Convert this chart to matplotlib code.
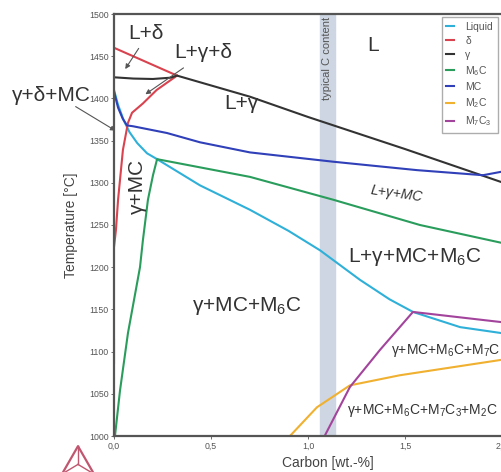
import matplotlib.pyplot as plt
import numpy as np

plt.rcParams['font.family'] = ['Liberation Sans', 'DejaVu Sans']
plt.rcParams['mathtext.fontset'] = 'custom'
plt.rcParams['mathtext.rm'] = 'Liberation Sans'
plt.rcParams['mathtext.it'] = 'Liberation Sans:italic'

# phase boundary lines (carbon wt.-%, temperature °C)
liquid_a_c = [0.0, 0.02, 0.05, 0.08, 0.12, 0.17, 0.222]
liquid_a_t = [1410, 1393, 1374, 1360, 1347, 1335, 1328]
liquid_b_c = [0.222, 0.443, 0.701, 0.90, 1.062, 1.268, 1.42, 1.541, 1.784, 1.995, 2.2]
liquid_b_t = [1328, 1297, 1268, 1243, 1220, 1185, 1162, 1147, 1129, 1122, 1118]

delta_liq_c = [0.0, 0.325]
delta_liq_t = [1460, 1427]
delta_c = [0.325, 0.22, 0.149, 0.093, 0.072, 0.046, 0.021, 0.01, 0.0]
delta_t = [1427, 1410, 1394, 1383, 1371, 1339, 1280, 1244, 1224]
delta_low_c = [0.002, 0.002]
delta_low_t = [1114, 1086]

gamma_c = [0.0, 0.1, 0.2, 0.29, 0.325, 0.701, 1.0, 1.5, 1.995, 2.2]
gamma_t = [1425, 1423.5, 1423, 1424.5, 1427, 1402, 1378, 1340, 1301, 1285]

m6c_c = [0.005, 0.031, 0.072, 0.134, 0.149, 0.175, 0.201, 0.222, 0.45, 0.701, 1.129, 1.577, 1.995, 2.2]
m6c_t = [1000, 1054, 1122, 1200, 1232, 1280, 1309, 1328, 1318, 1307, 1280, 1250, 1229, 1220]

mc_c = [0.0, 0.021, 0.045, 0.067, 0.098, 0.273, 0.443, 0.701, 1.129, 1.562, 1.902, 1.995, 2.2]
mc_t = [1408, 1389, 1376, 1368, 1367, 1359, 1348, 1336, 1325, 1315, 1309, 1313, 1318]

m2c_c = [0.907, 1.046, 1.216, 1.474, 1.99, 2.2]
m2c_t = [1000, 1034, 1060, 1072, 1090, 1097]

m7c3_c = [1.088, 1.216, 1.371, 1.541, 1.995, 2.2]
m7c3_t = [1001, 1058, 1102, 1147, 1135, 1131]

band_c = [1.06, 1.14]

x_ticks = [0.0, 0.5, 1.0, 1.5, 2.0]
x_tick_labels = ['0,0', '0,5', '1,0', '1,5', '2,0']
y_ticks = [1000, 1050, 1100, 1150, 1200, 1250, 1300, 1350, 1400, 1450, 1500]

c_liquid = '#2fb0d8'
c_delta = '#d8434f'
c_gamma = '#333333'
c_m6c = '#2a9d5c'
c_mc = '#3040b8'
c_m2c = '#f0b030'
c_m7c3 = '#a3449c'

fig = plt.figure(figsize=(5.01, 4.72), dpi=100)
ax = fig.add_axes([114 / 501, 36 / 472, 2.2 * 194 / 501, 422 / 472])

ax.axvspan(band_c[0], band_c[1], color='#cdd6e2', zorder=0)
ax.text(sum(band_c) / 2, 1497, 'typical C content', rotation=90, ha='center', va='top',
        fontsize=8, color='#555555')

lw = 1.5
ax.plot(liquid_a_c, liquid_a_t, color=c_liquid, lw=lw)
ax.plot(liquid_b_c, liquid_b_t, color=c_liquid, lw=lw, label='Liquid')
ax.plot(delta_liq_c, delta_liq_t, color=c_delta, lw=lw, label='δ')
ax.plot(delta_c, delta_t, color=c_delta, lw=lw)
ax.plot(delta_low_c, delta_low_t, color=c_delta, lw=lw)
ax.plot(gamma_c, gamma_t, color=c_gamma, lw=lw, label='γ')
ax.plot(m6c_c, m6c_t, color=c_m6c, lw=lw, label='M$_6$C')
ax.plot(mc_c, mc_t, color=c_mc, lw=lw, label='MC')
ax.plot(m2c_c, m2c_t, color=c_m2c, lw=lw, label='M$_2$C')
ax.plot(m7c3_c, m7c3_t, color=c_m7c3, lw=lw, label='M$_7$C$_3$')

ax.set_xlim(0, 2.2)
ax.set_ylim(1000, 1500)
ax.set_xticks(x_ticks)
ax.set_xticklabels(x_tick_labels)
ax.set_yticks(y_ticks)
ax.tick_params(labelsize=6.3, colors='#555555', length=2, width=0.6, pad=2)
for s in ax.spines.values():
    s.set_color('#555555')
    s.set_linewidth(1.6)

ax.set_xlabel('Carbon [wt.-%]', fontsize=10, color='#444444', labelpad=4)
ax.set_ylabel('Temperature [°C]', fontsize=10, color='#444444', labelpad=8)

# region labels
big = dict(fontsize=15, color='#333333', ha='center', va='center')
small = dict(fontsize=10, color='#333333', ha='center', va='center')
ax.text(0.165, 1477, 'L+δ', **big)
ax.text(0.46, 1454, 'L+γ+δ', **big)
ax.text(-0.325, 1404, 'γ+δ+MC', clip_on=False, **big)
ax.text(1.335, 1463, 'L', **big)
ax.text(0.655, 1394, 'L+γ', **big)
ax.text(0.12, 1296, 'γ+MC', rotation=90, **big)
ax.text(1.459, 1287, 'L+γ+MC', rotation=-8, style='italic', **small)
ax.text(1.55, 1212, 'L+γ+MC+M$_6$C', **big)
ax.text(0.685, 1154, 'γ+MC+M$_6$C', **big)
ax.text(1.71, 1101, 'γ+MC+M$_6$C+M$_7$C', **small)
ax.text(1.59, 1030, 'γ+MC+M$_6$C+M$_7$C$_3$+M$_2$C', **small)

arrow = dict(arrowstyle='-|>', color='#555555', lw=0.8, mutation_scale=7)
ax.annotate('', xy=(0.05, 1432), xytext=(0.135, 1462), arrowprops=arrow)
ax.annotate('', xy=(0.15, 1403), xytext=(0.37, 1438), arrowprops=arrow)
ax.annotate('', xy=(0.02, 1360), xytext=(-0.21, 1392), arrowprops=arrow,
            annotation_clip=False)

ax.legend(loc='upper left', bbox_to_anchor=(0.768, 0.993), borderaxespad=0,
          fontsize=7.5, frameon=True, fancybox=False, edgecolor='#999999',
          handlelength=0.7, handletextpad=1.1, labelspacing=0.4, borderpad=0.45,
          labelcolor='#555555')

# small tetrahedron emblem below the axis
h = 501 / 472
tri = np.array([[0.0, 0.0], [1.0, 0.0], [0.5, 0.87], [0.0, 0.0]])
ox, oy, sz = 62 / 501, -2 / 472, 32 / 501
fig.lines.append(plt.Line2D(ox + tri[:, 0] * sz, oy + tri[:, 1] * sz * h,
                            color='#c0566f', lw=1.6, transform=fig.transFigure))
cx, cy = ox + 0.5 * sz, oy + 0.3 * sz * h
for px, py in tri[:3]:
    fig.lines.append(plt.Line2D([cx, ox + px * sz], [cy, oy + py * sz * h],
                                color='#c0566f', lw=1.0, transform=fig.transFigure))

fig.savefig('out.png', dpi=100)
